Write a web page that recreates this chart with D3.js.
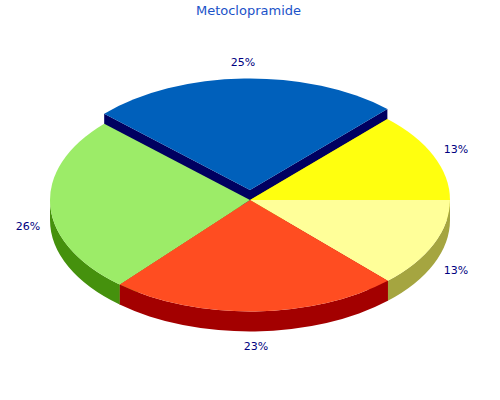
<!DOCTYPE html>
<html>
<head>
<meta charset="utf-8">
<script src="https://cdn.jsdelivr.net/npm/d3@7"></script>
<style>
  html, body { margin: 0; padding: 0; background: #fff; }
  svg { display: block; }
  text { font-family: "DejaVu Sans", sans-serif; }
</style>
</head>
<body>
<div id="chart"></div>
<script>
// data, clockwise from 3 o'clock
const LABELS = ["13%", "23%", "26%", "25%", "13%"];
const VALUES = [12.9, 23.4, 25.7, 25.05, 12.95];
const EXPLODED = [0, 0, 0, 1, 0];
const TOP_COLORS = ["#FFFF99", "#FF4D21", "#9CEC68", "#0060BB", "#FFFF0F"];
const SIDE_COLORS = ["#A5A540", "#A30000", "#45910D", "#000060", "#A5A500"];

const WIDTH = 500;
const HEIGHT = 400;
const CX = 250;
const CY = 200;
const RX = 200;
const RY = 111.5;
const DEPTH = 20;
const EXPLODE = 10;
const K = RY / RX;

// label centres, same order as LABELS
const LABEL_X = [456, 256, 28, 243, 456];
const LABEL_Y = [270, 346, 226, 62, 149];

const FRAME = d3.select("#chart")
  .append("svg")
    .attr("width", WIDTH)
    .attr("height", HEIGHT);

FRAME.append("text")
  .attr("x", 248.5)
  .attr("y", 15)
  .attr("text-anchor", "middle")
  .attr("font-size", "13px")
  .attr("fill", "#1A52C8")
  .text("Metoclopramide");

const PIE = d3.pie().sort(null).startAngle(Math.PI / 2).endAngle(Math.PI * 2.5);
const ARC = d3.arc().innerRadius(0).outerRadius(RX);
const slices = PIE(VALUES);
const dz = DEPTH / K;

// pie angles start at north, canvas angles at east
const toCanvas = (a) => a - Math.PI / 2;

// radial wall between centre and rim, extruded down
function wallPath(angle) {
  const a = toCanvas(angle);
  const p = d3.path();
  p.moveTo(0, 0);
  p.lineTo(RX * Math.cos(a), RX * Math.sin(a));
  p.lineTo(RX * Math.cos(a), RX * Math.sin(a) + dz);
  p.lineTo(0, dz);
  p.closePath();
  return p.toString();
}

// rim band, only the part that faces the viewer
function rimPath(d) {
  const a0 = toCanvas(d.startAngle);
  const a1 = Math.min(toCanvas(d.endAngle), Math.PI);
  if (a0 >= Math.PI) return null;
  const p = d3.path();
  p.moveTo(RX * Math.cos(a0), RX * Math.sin(a0));
  p.arc(0, 0, RX, a0, a1);
  p.lineTo(RX * Math.cos(a1), RX * Math.sin(a1) + dz);
  p.arc(0, dz, RX, a1, a0, true);
  p.closePath();
  return p.toString();
}

const groupOf = (i) => "translate(" + CX + "," + (CY - EXPLODED[i] * EXPLODE) + ") scale(1," + K + ")";

// walls go under everything, then rims, then the top faces
slices.forEach((d, i) => {
  const g = FRAME.append("g").attr("class", "side").attr("transform", groupOf(i));
  [d.startAngle, d.endAngle].forEach((a) => {
    g.append("path").attr("d", wallPath(a)).attr("fill", SIDE_COLORS[i]);
  });
});

slices.forEach((d, i) => {
  const rim = rimPath(d);
  if (rim) {
    FRAME.append("path")
      .attr("transform", groupOf(i))
      .attr("d", rim)
      .attr("fill", SIDE_COLORS[i]);
  }
});

slices.forEach((d, i) => {
  FRAME.append("path")
    .attr("class", "slice")
    .attr("transform", groupOf(i))
    .attr("d", ARC(d))
    .attr("fill", TOP_COLORS[i]);
});

FRAME.selectAll(".label")
  .data(LABELS)
  .enter()
  .append("text")
    .attr("class", "label")
    .attr("x", (d, i) => LABEL_X[i])
    .attr("y", (d, i) => LABEL_Y[i])
    .attr("dy", "0.35em")
    .attr("text-anchor", "middle")
    .attr("font-size", "11px")
    .attr("fill", "#000080")
    .text((d) => d);
</script>
</body>
</html>
